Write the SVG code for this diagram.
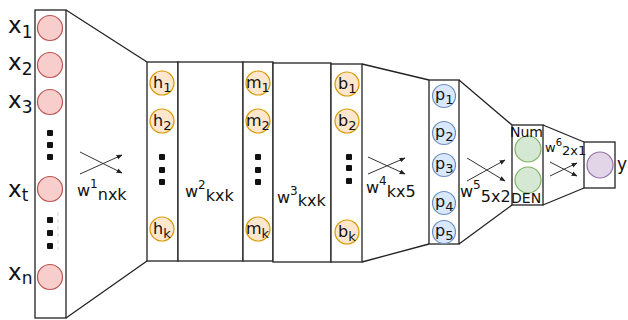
<svg xmlns="http://www.w3.org/2000/svg" width="628" height="320" viewBox="0 0 628 320">
<defs>
<marker id="ah" viewBox="0 0 10 10" refX="9" refY="5" markerWidth="6" markerHeight="6" orient="auto" markerUnits="userSpaceOnUse">
<path d="M0,1 L10,5 L0,9 z" fill="#222"/>
</marker>
<style>
.col{fill:#fff;stroke:#222;stroke-width:1.3}
.ln{fill:none;stroke:#222;stroke-width:1.3}
.ar{fill:none;stroke:#333;stroke-width:1;marker-end:url(#ah)}
.cx{fill:#f8cecc;stroke:#b85450;stroke-width:1.2}
.ch{fill:#ffe6cc;stroke:#d79b00;stroke-width:1.2}
.cp{fill:#dae8fc;stroke:#6c8ebf;stroke-width:1.2}
.cg{fill:#d5e8d4;stroke:#82b366;stroke-width:1.2}
.cu{fill:#e1d5e7;stroke:#9673a6;stroke-width:1.2}
.dot{fill:#111}
text{font-family:"DejaVu Sans",Verdana,sans-serif;fill:#111}
.big{font-size:23px}
.sb{font-size:17px}
.nl{font-size:16px}
.ns{font-size:13px}
.wl{font-size:16px}
.ws{font-size:12px}
</style>
</defs>

<g id="connectors">
<path class="ln" d="M66,10 L147,62 M66,318 L147,261"/>
<path class="ln" d="M362,64 L429,80 M362,262 L429,244"/>
<path class="ln" d="M459,80 L512,125 M459,244 L512,205"/>
<path class="ln" d="M543,125 L584,142 M543,205 L584,188"/>
<path class="ar" d="M80,152 L122,173"/><path class="ar" d="M80,174 L122,155"/>
<path class="ar" d="M188,151 L226,171"/><path class="ar" d="M188,171 L226,154"/>
<path class="ar" d="M283,158 L322,177"/><path class="ar" d="M283,177 L322,160"/>
<path class="ar" d="M368,157 L405,174"/><path class="ar" d="M368,174 L405,158"/>
<path class="ar" d="M467,158 L505,181"/><path class="ar" d="M467,181 L505,160"/>
<path class="ar" d="M550,162 L577,176"/><path class="ar" d="M550,176 L577,163"/>
</g>

<g id="input-layer">
<rect class="col" x="35" y="10" width="31" height="308"/>
<circle class="cx" cx="50" cy="28" r="12.5"/>
<circle class="cx" cx="50" cy="65" r="12.5"/>
<circle class="cx" cx="50" cy="102" r="12.5"/>
<circle class="cx" cx="50" cy="189" r="12.5"/>
<circle class="cx" cx="50" cy="277" r="12.5"/>
<rect class="dot" x="47" y="130" width="6" height="6" rx="1"/>
<rect class="dot" x="47" y="142" width="6" height="6" rx="1"/>
<rect class="dot" x="47" y="154" width="6" height="6" rx="1"/>
<rect class="dot" x="47" y="217" width="6" height="6" rx="1"/>
<rect class="dot" x="47" y="230" width="6" height="6" rx="1"/>
<rect class="dot" x="47" y="243" width="6" height="6" rx="1"/>
<line x1="58" y1="212" x2="58" y2="250" stroke="#ccc" stroke-width="0.8" stroke-dasharray="4,3"/>
<text class="big" x="8" y="33">x<tspan class="sb" dy="5">1</tspan></text>
<text class="big" x="8" y="70">x<tspan class="sb" dy="5">2</tspan></text>
<text class="big" x="8" y="108">x<tspan class="sb" dy="5">3</tspan></text>
<text class="big" x="8" y="197">x<tspan class="sb" dy="4">t</tspan></text>
<text class="big" x="8" y="280">x<tspan class="sb" dy="4">n</tspan></text>
</g>

<g id="h-layer">
<rect class="col" x="147" y="62" width="31" height="199"/>
<circle class="ch" cx="162" cy="83" r="12"/>
<circle class="ch" cx="162" cy="121" r="12"/>
<circle class="ch" cx="162" cy="229" r="12"/>
<rect class="dot" x="159" y="154" width="6" height="6" rx="1"/>
<rect class="dot" x="159" y="167" width="6" height="6" rx="1"/>
<rect class="dot" x="159" y="179" width="6" height="6" rx="1"/>
<text class="nl" x="153" y="88">h<tspan class="ns" dy="4">1</tspan></text>
<text class="nl" x="153" y="126">h<tspan class="ns" dy="4">2</tspan></text>
<text class="nl" x="153" y="234">h<tspan class="ns" dy="4">k</tspan></text>
</g>

<g id="w2-block">
<rect class="col" x="178" y="62" width="65" height="199"/>
</g>

<g id="m-layer">
<rect class="col" x="243" y="62" width="30" height="199"/>
<circle class="ch" cx="258" cy="83" r="12"/>
<circle class="ch" cx="258" cy="121" r="12"/>
<circle class="ch" cx="258" cy="229" r="12"/>
<rect class="dot" x="255" y="154" width="6" height="6" rx="1"/>
<rect class="dot" x="255" y="167" width="6" height="6" rx="1"/>
<rect class="dot" x="255" y="179" width="6" height="6" rx="1"/>
<text class="nl" x="246" y="88">m<tspan class="ns" dy="4">1</tspan></text>
<text class="nl" x="246" y="126">m<tspan class="ns" dy="4">2</tspan></text>
<text class="nl" x="246" y="234">m<tspan class="ns" dy="4">k</tspan></text>
</g>

<g id="w3-block">
<rect class="col" x="273" y="63" width="58" height="199"/>
</g>

<g id="b-layer">
<rect class="col" x="331" y="64" width="31" height="198"/>
<circle class="ch" cx="347" cy="84" r="12"/>
<circle class="ch" cx="347" cy="121" r="12"/>
<circle class="ch" cx="347" cy="232" r="12"/>
<rect class="dot" x="346" y="154" width="6" height="6" rx="1"/>
<rect class="dot" x="346" y="165" width="6" height="6" rx="1"/>
<rect class="dot" x="346" y="178" width="6" height="6" rx="1"/>
<text class="nl" x="338" y="89">b<tspan class="ns" dy="4">1</tspan></text>
<text class="nl" x="338" y="126">b<tspan class="ns" dy="4">2</tspan></text>
<text class="nl" x="338" y="237">b<tspan class="ns" dy="4">k</tspan></text>
</g>

<g id="p-layer">
<rect class="col" x="429" y="80" width="30" height="164"/>
<circle class="cp" cx="444" cy="96" r="11.5"/>
<circle class="cp" cx="444" cy="133" r="11.5"/>
<circle class="cp" cx="444" cy="165" r="11.5"/>
<circle class="cp" cx="444" cy="203" r="11.5"/>
<circle class="cp" cx="444" cy="232" r="11.5"/>
<text class="nl" x="435" y="100">p<tspan class="ns" dy="4">1</tspan></text>
<text class="nl" x="435" y="137">p<tspan class="ns" dy="4">2</tspan></text>
<text class="nl" x="435" y="169">p<tspan class="ns" dy="4">3</tspan></text>
<text class="nl" x="435" y="207">p<tspan class="ns" dy="4">4</tspan></text>
<text class="nl" x="435" y="236">p<tspan class="ns" dy="4">5</tspan></text>
</g>

<g id="num-den-layer">
<rect class="col" x="512" y="125" width="31" height="80"/>
<circle class="cg" cx="528" cy="149" r="13"/>
<circle class="cg" cx="528" cy="180" r="13"/>
<text x="510" y="137" font-size="14">Num</text>
<text x="511" y="203" font-size="14">DEN</text>
</g>

<g id="output-layer">
<rect class="col" x="584" y="142" width="31" height="46"/>
<circle class="cu" cx="600" cy="165" r="13"/>
<text x="617" y="170" font-size="17">y</text>
</g>

<g id="weight-labels">
<text class="wl" x="77" y="196">w<tspan class="ws" dy="-8">1</tspan><tspan dy="12">nxk</tspan></text>
<text class="wl" x="185" y="197">w<tspan class="ws" dy="-8">2</tspan><tspan dy="12">kxk</tspan></text>
<text class="wl" x="277" y="203">w<tspan class="ws" dy="-8">3</tspan><tspan dy="11">kxk</tspan></text>
<text class="wl" x="366" y="193">w<tspan class="ws" dy="-8">4</tspan><tspan dy="12">kx5</tspan></text>
<text class="wl" x="460" y="197">w<tspan class="ws" dy="-8">5</tspan><tspan dy="13">5x2</tspan></text>
<text x="545" y="152" font-size="13">w<tspan font-size="10" dy="-6">6</tspan><tspan dy="9">2x1</tspan></text>
</g>
</svg>
